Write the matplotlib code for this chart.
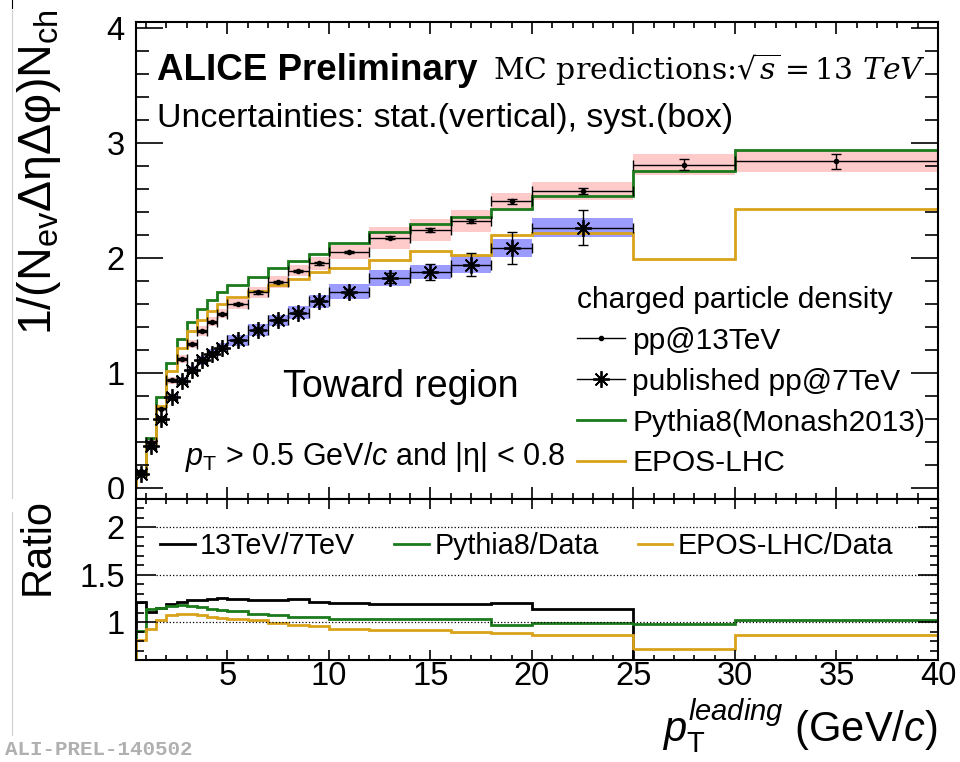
### ALICE toward-region charged particle density, pp 13 TeV vs 7 TeV and MC

## Importing Modules
import matplotlib
matplotlib.use('Agg')
import matplotlib.pyplot as plt
import numpy as np
from matplotlib.lines import Line2D
from matplotlib.patches import Rectangle

plt.rcParams['font.family'] = ['Liberation Sans', 'DejaVu Sans']
plt.rcParams['mathtext.fontset'] = 'custom'
plt.rcParams['mathtext.rm'] = 'Liberation Sans'
plt.rcParams['mathtext.it'] = 'Liberation Sans:italic'
plt.rcParams['mathtext.bf'] = 'Liberation Sans:bold'

## Data
edges = [0.5, 1, 1.5, 2, 2.5, 3, 3.5, 4, 4.5, 5, 6, 7, 8, 9, 10, 12, 14, 16, 18, 20, 25, 30, 40]

# pp@13TeV data
pp13 = [0.14, 0.40, 0.687, 0.932, 1.115, 1.252, 1.362, 1.441, 1.513, 1.596, 1.697,
        1.79, 1.886, 1.95, 2.046, 2.172, 2.242, 2.317, 2.49, 2.579, 2.81, 2.838]
pp13_stat = [0.005, 0.008, 0.008, 0.008, 0.008, 0.008, 0.008, 0.008, 0.008, 0.01, 0.01,
             0.01, 0.01, 0.01, 0.01, 0.012, 0.015, 0.02, 0.02, 0.025, 0.05, 0.063]
pp13_syst = [0.01, 0.02, 0.025, 0.03, 0.035, 0.035, 0.04, 0.04, 0.04, 0.045, 0.05,
             0.05, 0.05, 0.055, 0.06, 0.095, 0.097, 0.097, 0.076, 0.076, 0.095, 0.092]

# published pp@7TeV (up to 25 GeV/c)
pp7 = [0.116, 0.358, 0.60, 0.786, 0.926, 1.019, 1.107, 1.164, 1.217, 1.281, 1.372,
       1.453, 1.522, 1.62, 1.703, 1.819, 1.875, 1.939, 2.085, 2.259]
pp7_stat = [0.01, 0.012, 0.012, 0.012, 0.012, 0.012, 0.012, 0.012, 0.012, 0.015, 0.015,
            0.015, 0.015, 0.02, 0.02, 0.044, 0.073, 0.10, 0.138, 0.153]
pp7_syst = [0.01, 0.02, 0.025, 0.03, 0.035, 0.035, 0.04, 0.04, 0.042, 0.047, 0.05,
            0.052, 0.055, 0.058, 0.065, 0.07, 0.065, 0.076, 0.08, 0.083]

# MC predictions
pythia = [0.127, 0.43, 0.786, 1.086, 1.295, 1.444, 1.55, 1.633, 1.70, 1.765, 1.834,
          1.91, 1.968, 2.032, 2.128, 2.221, 2.294, 2.352, 2.425, 2.535, 2.751, 2.934]
epos = [0.113, 0.387, 0.707, 1.013, 1.21, 1.36, 1.46, 1.537, 1.595, 1.655, 1.71,
        1.765, 1.814, 1.872, 1.91, 1.98, 2.061, 2.026, 2.20, 2.212, 1.985, 2.419]

# Ratios
r_13_7 = [1.21, 1.106, 1.151, 1.187, 1.211, 1.229, 1.236, 1.243, 1.25, 1.24, 1.236,
          1.229, 1.243, 1.211, 1.204, 1.187, 1.194, 1.194, 1.2, 1.141]
r_pythia = [0.91, 1.141, 1.151, 1.169, 1.176, 1.169, 1.158, 1.141, 1.13, 1.113, 1.088,
            1.071, 1.053, 1.053, 1.035, 1.028, 1.031, 1.028, 0.972, 0.99, 0.982, 1.024]
r_epos = [0.81, 0.93, 1.018, 1.071, 1.088, 1.088, 1.071, 1.053, 1.042, 1.03, 1.018,
          0.99, 0.97, 0.954, 0.93, 0.912, 0.92, 0.895, 0.884, 0.859, 0.711, 0.859]
ratio_ref = [1, 1.5, 2]

## Styles
c_green = '#1b7a1b'
c_orange = '#d9a21b'
c_pink = '#ffcaca'
c_blue = '#9c9cff'

## Derived
e = np.array(edges)
ctr = (e[:-1] + e[1:]) / 2
hw = np.diff(e) / 2
n7 = len(pp7)
e7 = e[:n7 + 1]

fig = plt.figure(figsize=(9.6, 7.62), dpi=100)
ax1 = fig.add_axes([136/960, 1 - 499/762, 802/960, 477/762])
ax2 = fig.add_axes([136/960, 1 - 660/762, 802/960, 161/762])
ax1.set_zorder(1)
ax2.set_zorder(3)

## Main panel
ax1.bar(ctr, 2*np.array(pp13_syst), bottom=np.array(pp13) - np.array(pp13_syst),
        width=2*hw, color=c_pink, linewidth=0)
ax1.bar(ctr[:n7], 2*np.array(pp7_syst), bottom=np.array(pp7) - np.array(pp7_syst),
        width=2*hw[:n7], color=c_blue, linewidth=0)
ax1.stairs(pythia, edges, baseline=0, color=c_green, lw=2.0)
ax1.stairs(epos, edges, baseline=0, color=c_orange, lw=2.0)
ax1.errorbar(ctr, pp13, xerr=hw, yerr=pp13_stat, fmt='o', ms=3, color='k',
             elinewidth=1.0, capsize=3.5, capthick=1.0)
ax1.errorbar(ctr[:n7], pp7, xerr=hw[:n7], yerr=pp7_stat, fmt='none', color='k',
             elinewidth=1.0, capsize=3.5, capthick=1.0)
ax1.plot(ctr[:n7], pp7, ls='none', marker=(8, 2, 0), ms=12, mew=1.3, color='k')

ax1.set_xlim(0.5, 40)
ax1.set_ylim(-0.1, 4.05)
ax1.set_xticks(np.arange(5, 41, 5))
ax1.set_xticks(np.arange(1, 41, 1), minor=True)
ax1.set_yticks(np.arange(0, 5, 1))
ax1.set_yticks(np.arange(0, 4.05, 0.2), minor=True)
ax1.tick_params(axis='both', which='both', direction='in', top=True, right=True,
                width=1.2, labelsize=23.5)
ax1.tick_params(axis='x', which='major', length=8.5, labelbottom=False)
ax1.tick_params(axis='x', which='minor', length=4.5)
ax1.tick_params(axis='y', which='major', length=19.5, pad=8)
ax1.tick_params(axis='y', which='minor', length=9.5)
for s in ax1.spines.values():
    s.set_linewidth(1.5)

h13 = Line2D([], [], color='k', lw=1.0, marker='o', ms=3)
h7 = Line2D([], [], color='k', lw=1.0, marker=(8, 2, 0), ms=12, mew=1.3)
hpy = Line2D([], [], color=c_green, lw=2.0)
hep = Line2D([], [], color=c_orange, lw=2.0)
ax1.legend([h13, h7, hpy, hep],
           ['pp@13TeV', 'published pp@7TeV', 'Pythia8(Monash2013)', 'EPOS-LHC'],
           title='charged particle density', title_fontsize=21.5, alignment='left',
           loc='upper left', bbox_to_anchor=((577-136)/802, (499-286)/477),
           frameon=False, fontsize=21.5, handlelength=1.6, handletextpad=0.25,
           labelspacing=0.43, borderpad=0, borderaxespad=0)

## Ratio panel
ax2.hlines(ratio_ref, 1.5, 40, colors='k', linestyles=':', lw=0.9)
ax2.stairs(r_13_7, e7, baseline=0, color='k', lw=2.0)
ax2.stairs(r_pythia, edges, baseline=0, color=c_green, lw=2.0)
ax2.stairs(r_epos, edges, baseline=0, color=c_orange, lw=2.0)
ax2.set_xlim(0.5, 40)
ax2.set_ylim(0.6, 2.3)
ax2.set_xticks(np.arange(5, 41, 5))
ax2.set_xticks(np.arange(1, 41, 1), minor=True)
ax2.set_yticks([1, 1.5, 2])
ax2.set_yticklabels(['1', '1.5', '2'])
ax2.set_yticks(np.arange(0.6, 2.31, 0.1), minor=True)
ax2.tick_params(axis='both', which='both', direction='in', top=True, right=True,
                width=1.2, labelsize=23.5)
ax2.tick_params(axis='x', which='major', length=7.5, pad=1)
ax2.tick_params(axis='x', which='minor', length=3.8)
ax2.tick_params(axis='y', which='major', length=14.5, pad=8)
ax2.tick_params(axis='y', which='minor', length=5.5)
for s in ax2.spines.values():
    s.set_linewidth(1.5)

rk = Line2D([], [], color='k', lw=2.0)
rg = Line2D([], [], color=c_green, lw=2.0)
ro = Line2D([], [], color=c_orange, lw=2.0)
ax2.legend([rk, rg, ro], ['13TeV/7TeV', 'Pythia8/Data', 'EPOS-LHC/Data'], ncol=3,
           loc='center left', bbox_to_anchor=((160-136)/802, 0.706), frameon=False,
           fontsize=20.7, handlelength=1.2, handletextpad=0.2, columnspacing=1.35,
           borderpad=0, borderaxespad=0)

# ratio pad covers the bottom of the "0" label
fig.patches.append(Rectangle((0, 1 - 512/762), 136/960, 13/762, transform=fig.transFigure,
                             facecolor='white', edgecolor='none', zorder=2))

## Texts
fig.text(157/960, 1 - 80/762, 'ALICE Preliminary', fontsize=26.5, fontweight='bold',
         va='baseline')
fig.text(493/960, 1 - 80/762, r'MC predictions:$\sqrt{s} = 13\ TeV$', fontsize=21.5,
         family='DejaVu Serif', math_fontfamily='dejavuserif', va='baseline')
fig.text(157/960, 1 - 127/762, 'Uncertainties: stat.(vertical), syst.(box)',
         fontsize=24.4, va='baseline')
fig.text(401/960, 1 - 397/762, 'Toward region', fontsize=27, ha='center', va='baseline')
fig.text(185/960, 1 - 465/762, r'$p_{\rm T}$ > 0.5 GeV/$c$ and |η| < 0.8', fontsize=22,
         va='baseline')

fig.text(39/960, 1 - 9/762, r'1/($\mathrm{N}_{\mathrm{ev}}$ΔηΔφ)$\mathrm{N}_{\mathrm{ch}}$',
         rotation=90, fontsize=33.5, ha='center', va='top')
fig.text(38/960, 1 - 498/762, 'Ratio', rotation=90, fontsize=30, ha='center', va='top')
fig.text(938/960, 1 - 742/762, r'$p_{\rm T}^{leading}$ (GeV/$c$)', fontsize=30,
         ha='right', va='baseline')
fig.text(5/960, 1 - 755/762, 'ALI-PREL-140502', fontsize=15, family='Liberation Mono',
         color='#b0b0b0', fontweight='bold', va='baseline')

# screenshot border
fig.add_artist(Line2D([12/960, 12/960], [1 - 735/762, 1 - 10/762], color='#cfcfcf', lw=0.8))
fig.add_artist(Line2D([12/960, 12/960], [1 - 8/762, 1], color='k', lw=0.8))

fig.savefig('out.png', dpi=100)
